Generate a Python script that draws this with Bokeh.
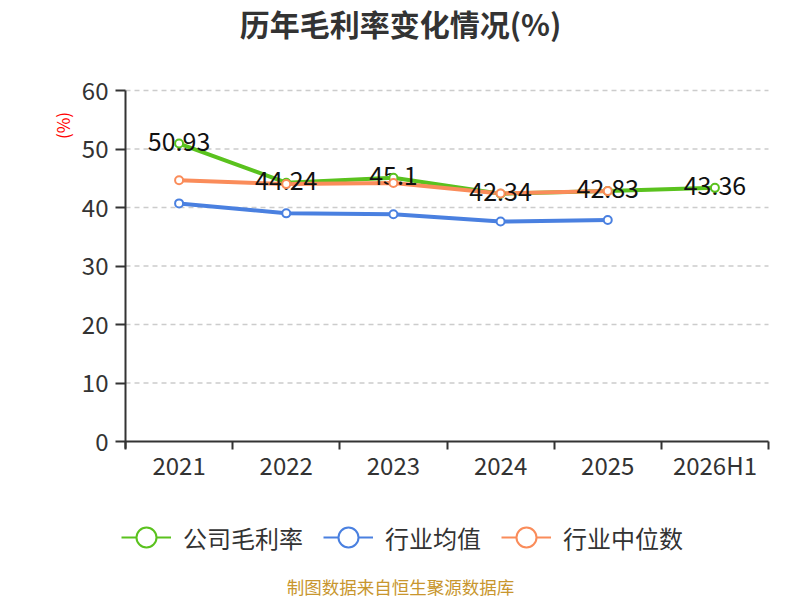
from bokeh.plotting import figure
from bokeh.models import FixedTicker, Label, Legend, LegendItem
from bokeh.core.properties import value
from bokeh.embed import file_html
from bokeh.resources import INLINE
import math

years = ["2021", "2022", "2023", "2024", "2025", "2026H1"]
company = [50.93, 44.24, 45.1, 42.34, 42.83, 43.36]
ind_mean = [40.7, 39.0, 38.85, 37.6, 37.85]
ind_median = [44.65, 44.0, 44.2, 42.4, 42.8]
y_ticks = [0, 10, 20, 30, 40, 50, 60]
series_names = ["公司毛利率", "行业均值", "行业中位数"]

FONT = "Noto Sans CJK SC"
GREEN = "#5ac21e"
BLUE = "#4a80e0"
ORANGE = "#fa8c5a"

# category centres and boundaries on a numeric axis
xs = [i + 0.5 for i in range(len(years))]
bounds = list(range(len(years) + 1))

# the frame covers the whole canvas; axes are pinned at 0 so that
# title, legend and source note can live inside it without clipping
W, H = 800, 600
LEFT, RIGHT, TOP, BOTTOM = 125, 768, 90, 441
sx = (RIGHT - LEFT) / len(years)
sy = (BOTTOM - TOP) / 60.0
x_range = (-LEFT / sx, len(years) + (W - RIGHT) / sx)
y_range = (-(H - BOTTOM) / sy, 60 + TOP / sy)


def px(x):
    return x_range[0] + x / sx


def py(y):
    return y_range[1] - y / sy


p = figure(width=W, height=H, x_range=x_range, y_range=y_range,
           output_backend="svg", toolbar_location=None, min_border=0,
           min_border_left=0, min_border_right=0, min_border_top=0, min_border_bottom=0)
p.outline_line_color = None
p.grid.visible = False

# dashed horizontal grid lines
p.segment(x0=[0] * (len(y_ticks) - 1), x1=[len(years)] * (len(y_ticks) - 1),
          y0=y_ticks[1:], y1=y_ticks[1:], line_color="#cccccc", line_dash="5 4", line_width=1.3)

p.yaxis.ticker = FixedTicker(ticks=y_ticks)
p.xaxis.ticker = FixedTicker(ticks=xs, minor_ticks=bounds)
p.xaxis.major_label_overrides = {x: y for x, y in zip(xs, years)}
p.xaxis.fixed_location = 0
p.yaxis.fixed_location = 0
p.xaxis.bounds = (0, len(years))
p.yaxis.bounds = (-1.25, 60)

for ax in (p.xaxis, p.yaxis):
    ax.axis_line_color = "#333333"
    ax.axis_line_width = 2
    ax.major_label_text_font = FONT
    ax.major_label_text_font_size = "24px"
    ax.major_label_text_color = "#333333"

p.yaxis.major_tick_line_color = "#333333"
p.yaxis.major_tick_line_width = 2
p.yaxis.major_tick_out = 10
p.yaxis.major_tick_in = 0
p.yaxis.minor_tick_line_color = None
p.yaxis.major_label_standoff = 7

p.xaxis.major_tick_line_color = None
p.xaxis.minor_tick_line_color = "#333333"
p.xaxis.minor_tick_line_width = 2
p.xaxis.minor_tick_out = 8
p.xaxis.minor_tick_in = 0
p.xaxis.major_label_standoff = -3

series = [(company, GREEN), (ind_mean, BLUE), (ind_median, ORANGE)]

# thin copies of the lines, hidden under the thick ones, used as legend keys
keys = [p.line(xs[:len(vals)], vals, line_width=2.2, color=c) for vals, c in series]

# series: lines, then value labels, then markers on top
for vals, c in series:
    p.line(xs[:len(vals)], vals, line_width=4, color=c)

p.text(xs, company, text=[f"{v:g}" for v in company], text_align="center",
       text_baseline="middle", y_offset=-2, text_font=value(FONT),
       text_font_size="25px", text_color="#111111")

marks = [p.scatter(xs[:len(vals)], vals, size=8, fill_color="white", line_color=c, line_width=2)
         for vals, c in series]

legend = Legend(items=[LegendItem(label=n, renderers=[k, m])
                       for n, k, m in zip(series_names, keys, marks)],
                orientation="horizontal", location=(121, 38))
legend.margin = 0
legend.padding = 0
legend.spacing = 20
legend.glyph_width = 50
legend.glyph_height = 50
legend.label_standoff = 12
legend.label_text_font = FONT
legend.label_text_font_size = "24px"
legend.label_text_color = "#333333"
legend.border_line_color = None
legend.background_fill_alpha = 0
p.add_layout(legend)

p.add_layout(Label(x=px(400), y=py(22), text="历年毛利率变化情况(%)", text_align="center",
                   text_baseline="middle", text_font=FONT, text_font_size="30px",
                   text_font_style="bold", text_color="#333333"))
p.add_layout(Label(x=px(62), y=py(125), text="(%)", angle=math.pi / 2, text_align="center",
                   text_baseline="middle", text_font=FONT, text_font_size="17px",
                   text_color="red"))
p.add_layout(Label(x=px(400), y=py(586), text="制图数据来自恒生聚源数据库", text_align="center",
                   text_baseline="middle", text_font=FONT, text_font_size="17.5px",
                   text_color="#c8962e"))

open("out.html", "w").write(file_html(p, INLINE))
